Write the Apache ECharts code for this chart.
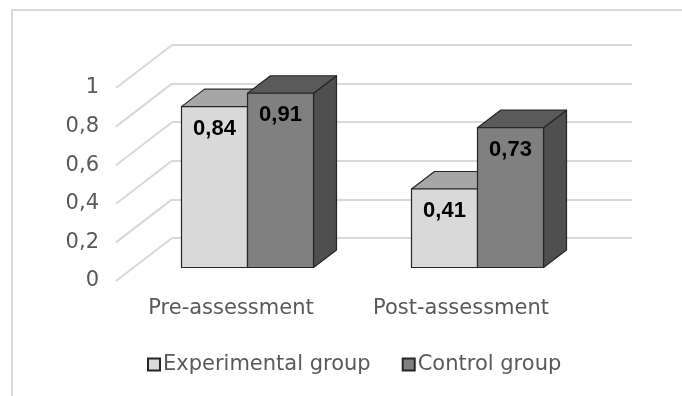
<!DOCTYPE html>
<html>
<head>
<meta charset="utf-8">
<script src="https://cdn.jsdelivr.net/npm/echarts@6/dist/echarts.min.js"></script>
<style>
  html, body { margin: 0; padding: 0; background: #fff; }
  #chart { width: 682px; height: 396px; }
</style>
</head>
<body>
<div id="chart"></div>
<script>
// data
var categories = ['Pre-assessment', 'Post-assessment'];
var experimental = [0.84, 0.41];
var control = [0.91, 0.73];
var yTicks = [0, 0.2, 0.4, 0.6, 0.8, 1];

var FONT = 'DejaVu Sans';
var GREY_TEXT = '#595959';
var DEPTH_X = 23, DEPTH_Y = -17.5;   // bar depth (oblique)
var WALL_X = 56, WALL_Y = 43;       // floor depth, wall to front

function fmt(v) { return String(v).replace('.', ','); }

// draws one 3D-looking column: front, top and right side
function makeColumn(colors, side) {
    return function (params, api) {
        var cat = api.value(0), val = api.value(1);
        var base = api.coord([cat, 0]);
        var top = api.coord([cat, val]);
        var bw = api.size([1, 0])[0] * 0.287;
        var left = side < 0 ? base[0] - bw : base[0];
        var ty = top[1], by = base[1];
        var stroke = { stroke: '#262626', lineWidth: 1.2, lineJoin: 'round' };
        return {
            type: 'group',
            children: [
                { type: 'polygon', shape: { points: [[left + bw, ty], [left + bw + DEPTH_X, ty + DEPTH_Y], [left + bw + DEPTH_X, by + DEPTH_Y], [left + bw, by]] },
                  style: Object.assign({ fill: colors.side }, stroke) },
                { type: 'polygon', shape: { points: [[left, ty], [left + DEPTH_X, ty + DEPTH_Y], [left + bw + DEPTH_X, ty + DEPTH_Y], [left + bw, ty]] },
                  style: Object.assign({ fill: colors.top }, stroke) },
                { type: 'rect', shape: { x: left, y: ty, width: bw, height: by - ty },
                  style: Object.assign({ fill: colors.front }, stroke) },
                { type: 'text', style: { text: fmt(val), x: left + bw / 2, y: ty + 22, align: 'center', verticalAlign: 'middle',
                  font: 'bold 22px "Liberation Sans"', fill: '#000' } }
            ]
        };
    };
}

var chart = echarts.init(document.getElementById('chart'));

chart.setOption({
    animation: false,
    textStyle: { fontFamily: FONT },
    graphic: [{
        type: 'rect', shape: { x: 12, y: 10, width: 700, height: 420 },
        style: { fill: 'none', stroke: '#d9d9d9', lineWidth: 2 }, silent: true
    }],
    legend: {
        left: 142, top: 349,
        itemWidth: 12, itemHeight: 12, itemGap: 31,
        icon: 'rect',
        textStyle: { fontFamily: FONT, fontSize: 21, color: GREY_TEXT, padding: [0, 0, 0, -2] },
        data: ['Experimental group', 'Control group']
    },
    grid: [
        // front plane: axis labels
        { left: 116, width: 460, top: 88, height: 193 },
        // back wall
        { left: 172, width: 460, top: 45, height: 193 },
        // plane of the column fronts
        { left: 132.5, width: 460, top: 76, height: 191.5 }
    ],
    xAxis: [
        { gridIndex: 0, type: 'category', data: categories,
          axisLine: { show: false }, axisTick: { show: false },
          axisLabel: { margin: 17, fontSize: 21, color: GREY_TEXT, fontFamily: FONT } },
        { gridIndex: 1, type: 'value', min: 0, max: 1, show: false },
        { gridIndex: 2, type: 'category', data: categories, show: false }
    ],
    yAxis: [
        { gridIndex: 0, type: 'value', min: 0, max: 1, interval: 0.2,
          axisLine: { show: false }, axisTick: { show: false }, splitLine: { show: false },
          axisLabel: { margin: 17, fontSize: 21, color: GREY_TEXT, fontFamily: FONT, formatter: fmt } },
        { gridIndex: 1, type: 'value', min: 0, max: 1, interval: 0.2,
          axisLine: { show: false }, axisTick: { show: false }, axisLabel: { show: false },
          splitLine: { lineStyle: { color: '#d9d9d9', width: 2 } } },
        { gridIndex: 2, type: 'value', min: 0, max: 1, show: false }
    ],
    series: [
        {
            // diagonal lines from back wall to the front
            type: 'custom', xAxisIndex: 1, yAxisIndex: 1, silent: true, z: 1,
            data: yTicks.map(function (t) { return [0, t]; }),
            renderItem: function (params, api) {
                var p = api.coord([0, api.value(1)]);
                return { type: 'line', shape: { x1: p[0], y1: p[1], x2: p[0] - WALL_X, y2: p[1] + WALL_Y },
                         style: { stroke: '#d9d9d9', lineWidth: 2 } };
            }
        },
        {
            name: 'Experimental group', type: 'custom', xAxisIndex: 2, yAxisIndex: 2, z: 3,
            itemStyle: { color: '#d9d9d9', borderColor: '#262626', borderWidth: 1.5 },
            data: experimental.map(function (v, i) { return [i, v]; }),
            renderItem: makeColumn({ front: '#d9d9d9', top: '#a6a6a6', side: '#8c8c8c' }, -1)
        },
        {
            name: 'Control group', type: 'custom', xAxisIndex: 2, yAxisIndex: 2, z: 4,
            itemStyle: { color: '#808080', borderColor: '#262626', borderWidth: 1.5 },
            data: control.map(function (v, i) { return [i, v]; }),
            renderItem: makeColumn({ front: '#808080', top: '#5a5a5a', side: '#4f4f4f' }, 1)
        }
    ]
});
</script>
</body>
</html>
